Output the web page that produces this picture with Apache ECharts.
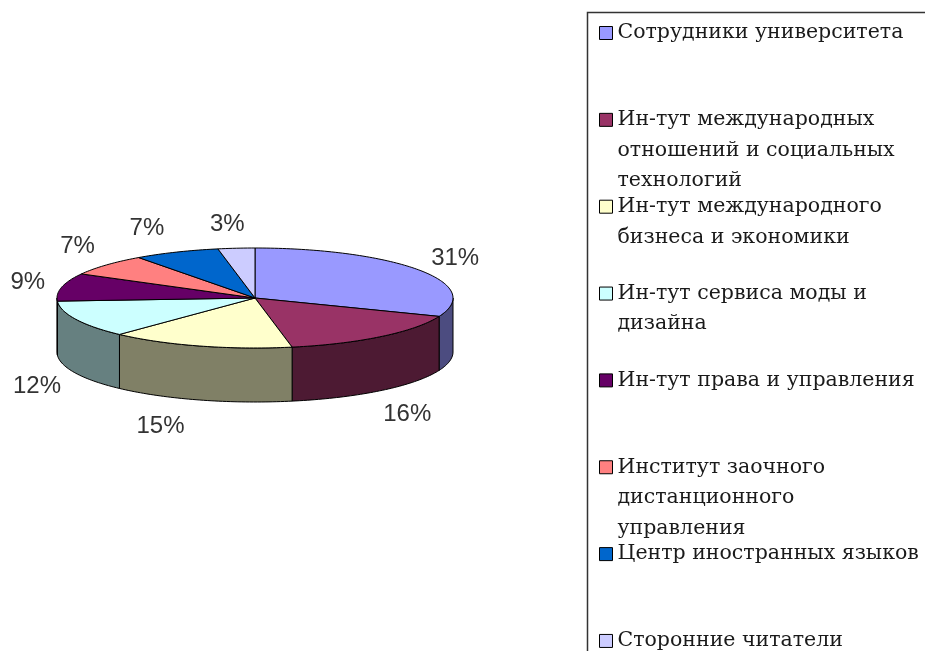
<!DOCTYPE html>
<html>
<head>
<meta charset="utf-8">
<script src="https://cdn.jsdelivr.net/npm/echarts@6/dist/echarts.min.js"></script>
<style>
  html, body { margin: 0; background: #fff; }
  #chart { width: 925px; height: 651px; }
</style>
</head>
<body>
<div id="chart"></div>
<script>
const categories = [
  'Сотрудники университета',
  'Ин-тут международных\nотношений и социальных\nтехнологий',
  'Ин-тут международного\nбизнеса и экономики',
  'Ин-тут сервиса моды и\nдизайна',
  'Ин-тут права и управления',
  'Институт заочного\nдистанционного\nуправления',
  'Центр иностранных языков',
  'Сторонние читатели'
];
const shares = [31, 16, 15, 12, 9, 7, 7, 3];
const topColors = ['#9999FF', '#993366', '#FFFFCC', '#CCFFFF', '#660066', '#FF8080', '#0066CC', '#CCCCFF'];
const sideColors = ['#4C4C80', '#4D1A33', '#808066', '#668080', '#330033', '#804040', '#003366', '#666680'];

/* ---- flattened pie layout ---- */
const CX = 255, CY = 298, RX = 198, RY = 50, DEPTH = 54;
const labelNudge = [[0, 2], [-2, 5], [-27, 3], [1, 3], [9, 1], [4, -3], [-12, -2], [-5, 0]];

/* ---- legend layout ---- */
const LH = 30.5, FIRST_LINE = 33, STEP = 86.85;

const total = shares.reduce((s, v) => s + v, 0);
const startAt = shares.map((v, i) => shares.slice(0, i).reduce((s, x) => s + x, 0));

function arc(a0, a1, dy) {
  const pts = [];
  const n = Math.max(2, Math.ceil((a1 - a0) / 0.02));
  for (let k = 0; k <= n; k++) {
    const t = a0 + (a1 - a0) * k / n;
    pts.push([CX + RX * Math.cos(t), CY + RY * Math.sin(t) + dy]);
  }
  return pts;
}

function renderSlice(i) {
  return function (params, api) {
    const v = api.value(0);
    const a0 = -Math.PI / 2 + 2 * Math.PI * startAt[i] / total;
    const a1 = a0 + 2 * Math.PI * v / total;
    const children = [];
    // visible rim: front half of the ellipse only
    const s0 = Math.max(a0, 0), s1 = Math.min(a1, Math.PI);
    if (s1 > s0) {
      const rimTop = arc(s0, s1, 0);
      const rimBottom = arc(s0, s1, DEPTH).reverse();
      children.push({
        type: 'polygon',
        shape: { points: rimTop.concat(rimBottom) },
        style: { fill: sideColors[i], stroke: '#000', lineWidth: 1 }
      });
    }
    children.push({
      type: 'polygon',
      shape: { points: [[CX, CY]].concat(arc(a0, a1, 0)) },
      style: { fill: topColors[i], stroke: '#000', lineWidth: 1 }
    });
    const m = (a0 + a1) / 2;
    const drop = Math.sin(m) > 0 ? DEPTH : 0;
    children.push({
      type: 'text',
      x: CX + (RX + 44) * Math.cos(m) + labelNudge[i][0],
      y: CY + (RY + 24) * Math.sin(m) + drop + labelNudge[i][1],
      style: {
        text: v + '%',
        fill: '#333',
        font: '24px "Liberation Sans", Arial, sans-serif',
        align: 'center',
        verticalAlign: 'middle'
      }
    });
    return { type: 'group', children };
  };
}

const chart = echarts.init(document.getElementById('chart'));

chart.setOption({
  backgroundColor: '#fff',
  animation: false,
  graphic: [{
    type: 'rect',
    shape: { x: 587.5, y: 12.5, width: 400, height: 700 },
    style: { fill: 'none', stroke: '#333', lineWidth: 1.5 },
    z: -1
  }],
  legend: categories.map((name, i) => {
    const n = name.split('\n').length;
    return {
      data: [name],
      orient: 'vertical',
      left: 599,
      top: FIRST_LINE + STEP * i - (2 * n - 1) * LH / 2,
      padding: 0,
      icon: 'rect',
      itemWidth: 13,
      itemHeight: 13,
      itemStyle: { borderColor: '#000', borderWidth: 1 },
      selectedMode: false,
      formatter: nm => '\n'.repeat(n - 1) + nm,
      textStyle: { fontFamily: 'DejaVu Serif', fontSize: 20.5, color: '#1a1a1a', lineHeight: LH }
    };
  }),
  series: categories.map((name, i) => ({
    name,
    type: 'custom',
    coordinateSystem: 'none',
    itemStyle: { color: topColors[i] },
    renderItem: renderSlice(i),
    data: [[shares[i]]]
  }))
});
</script>
</body>
</html>
